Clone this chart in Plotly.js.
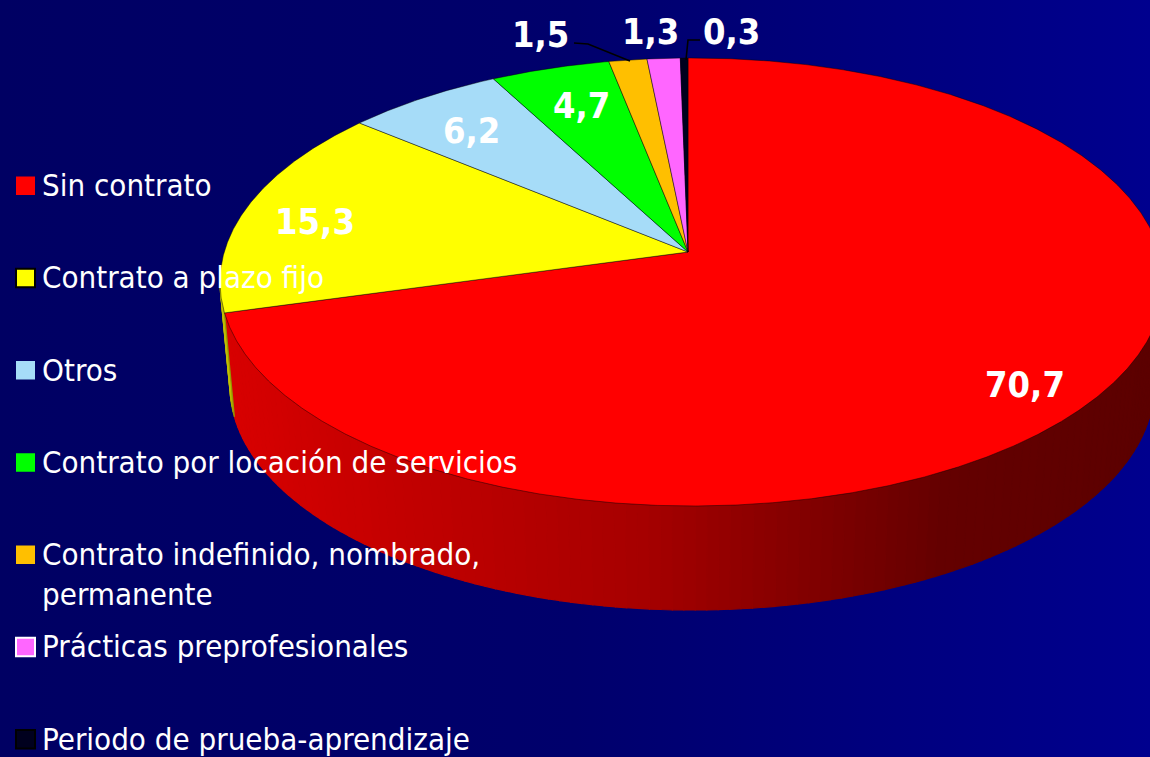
<!DOCTYPE html>
<html>
<head>
<meta charset="utf-8">
<script src="https://cdn.plot.ly/plotly-3.0.1.min.js"></script>
<style>
html,body{margin:0;padding:0;width:1150px;height:757px;overflow:hidden;
background:linear-gradient(to right,#000063 0%,#00006c 50%,#00008e 100%);}
#chart{width:1150px;height:757px;}
</style>
</head>
<body>
<div id="chart"></div>
<script>
// ---- data ----
const categories = ['Sin contrato','Contrato a plazo fijo','Otros','Contrato por locación de servicios','Contrato indefinido, nombrado,<br>permanente','Prácticas preprofesionales','Periodo de prueba-aprendizaje'];
const values = [70.7, 15.3, 6.2, 4.7, 1.5, 1.3, 0.3];
const valueLabels = ['70,7','15,3','6,2','4,7','1,5','1,3','0,3'];

// ---- styles ----
const colors = ['#ff0000','#ffff00','#a6dcf8','#00ff00','#ffbf00','#ff66ff','#00001e'];
const sideScales = [
  [[0,'#d80000'],[0.45,'#a60000'],[0.78,'#640000'],[1,'#5c0000']],
  [[0,'#c0c000'],[1,'#8a8a00']],
  [[0,'#7aa4ba'],[1,'#7aa4ba']],
  [[0,'#00b000'],[1,'#00b000']],
  [[0,'#b88a00'],[1,'#b88a00']],
  [[0,'#b048b0'],[1,'#b048b0']],
  [[0,'#000010'],[1,'#000010']]
];
const legendBorders = [null,'#000000',null,null,null,'#ffffff','#000000'];
const labelPos = [[1025,384],[315,221],[471,130],[581,105],[540,34],[650,31],[731,31]];
const fontFam = '"DejaVu Sans Condensed", "DejaVu Sans", sans-serif';

// ---- geometry (pixel space through the axes) ----
const TOP = {cx:692, cy:282, rx:472, ry:224};
const BOT = {cx:692, cy:386, rx:462, ry:224};
const APEX = {x:688, y:252};

function ray(th){
  const u0=(APEX.x-TOP.cx)/TOP.rx, v0=(APEX.y-TOP.cy)/TOP.ry;
  const du=Math.sin(th), dv=-Math.cos(th);
  const b=u0*du+v0*dv, c=u0*u0+v0*v0-1;
  const s=-b+Math.sqrt(b*b-c);
  return [APEX.x+s*TOP.rx*du, APEX.y+s*TOP.ry*dv];
}
function param(p, near){
  let t=Math.atan2((p[0]-TOP.cx)/TOP.rx, -(p[1]-TOP.cy)/TOP.ry);
  while(t-near>Math.PI) t-=2*Math.PI;
  while(near-t>Math.PI) t+=2*Math.PI;
  return t;
}
function ell(E,t){ return [E.cx+E.rx*Math.sin(t), E.cy-E.ry*Math.cos(t)]; }
function hex2rgb(h){ return [1,3,5].map(k=>parseInt(h.substr(k,2),16)); }
function scaleColor(sc,f){
  f=Math.max(0,Math.min(1,f));
  for(let k=1;k<sc.length;k++){
    if(f<=sc[k][0]){
      const a=sc[k-1], b=sc[k], w=(f-a[0])/((b[0]-a[0])||1);
      const ca=hex2rgb(a[1]), cb=hex2rgb(b[1]);
      return 'rgb('+ca.map((v,j)=>Math.round(v+(cb[j]-v)*w)).join(',')+')';
    }
  }
  return sc[sc.length-1][1];
}

const total = values.reduce((a,b)=>a+b,0);
const sideTraces=[], topTraces=[];
let cum=0;
values.forEach((v,i)=>{
  const a=cum/total*2*Math.PI, b=(cum+v)/total*2*Math.PI;
  cum+=v;
  // top face
  const xs=[APEX.x], ys=[APEX.y];
  const N=Math.max(4,Math.ceil((b-a)/0.005));
  for(let k=0;k<=N;k++){ const p=ray(a+(b-a)*k/N); xs.push(p[0]); ys.push(p[1]); }
  xs.push(APEX.x); ys.push(APEX.y);
  topTraces.push({type:'scatter',mode:'lines',x:xs,y:ys,fill:'toself',fillcolor:colors[i],
    line:{color:'rgba(0,0,0,0.55)',width:0.8},hoverinfo:'skip',showlegend:false,name:categories[i]});
  // side wall (front half only), drawn as shaded strips
  const ta=param(ray(a),a), tb=param(ray(b),b);
  const lo=Math.max(ta,Math.PI/2), hi=Math.min(tb,3*Math.PI/2);
  if(hi>lo){
    const S=Math.max(1,Math.ceil((hi-lo)/0.025));
    const xa=ell(TOP,lo)[0], xb=ell(TOP,hi)[0];
    let xmin=Math.min(xa,xb), xmax=Math.min(1150,Math.max(xa,xb));
    if(lo<=Math.PI/2+1e-9) xmax=Math.min(1150,TOP.cx+TOP.rx);
    if(hi>=3*Math.PI/2-1e-9) xmin=TOP.cx-TOP.rx;
    for(let s=0;s<S;s++){
      const t0=lo+(hi-lo)*s/S, t1=lo+(hi-lo)*(s+1)/S;
      const sx=[], sy=[];
      const M=8;
      for(let k=0;k<=M;k++){ const p=ell(TOP,t0+(t1-t0)*k/M); sx.push(p[0]); sy.push(p[1]); }
      for(let k=M;k>=0;k--){ const p=ell(BOT,t0+(t1-t0)*k/M); sx.push(p[0]); sy.push(p[1]); }
      sx.push(sx[0]); sy.push(sy[0]);
      const xm=ell(TOP,(t0+t1)/2)[0];
      const col=scaleColor(sideScales[i], (xm-xmin)/((xmax-xmin)||1));
      sideTraces.push({type:'scatter',mode:'lines',x:sx,y:sy,fill:'toself',fillcolor:col,
        line:{color:col,width:1.2},hoverinfo:'skip',showlegend:false});
    }
  }
});

// ---- labels ----
const annotations = valueLabels.map((t,i)=>({
  x:labelPos[i][0], y:labelPos[i][1], xref:'x', yref:'y', text:t, showarrow:false,
  xanchor:'center', yanchor:'middle',
  font:{family:fontFam, size:36, color:'#ffffff', weight:'bold'}
}));

// ---- legend (manual) ----
const shapes=[];
const legTop=185, legGap=92.25, legFont=31;
categories.forEach((c,i)=>{
  const yc=legTop+legGap*i;
  const lines=c.split('<br>').length;
  annotations.push({x:40, y:yc+(lines-1)*0.65*legFont, xref:'x', yref:'y', text:c, showarrow:false,
    xanchor:'left', yanchor:'middle', align:'left',
    font:{family:fontFam, size:legFont, color:'#ffffff'}});
  shapes.push({type:'rect', xref:'x', yref:'y', x0:16, x1:35, y0:yc-8.5, y1:yc+10,
    fillcolor:colors[i], line:{color:legendBorders[i]||colors[i], width:legendBorders[i]?2:0}});
});
// leader lines
shapes.push({type:'path', xref:'x', yref:'y', path:'M574,43 L588,44 L630,61', line:{color:'#000000',width:1.6}});
shapes.push({type:'path', xref:'x', yref:'y', path:'M700,40 L688,40 L686,60', line:{color:'#000000',width:1.6}});

const layout = {
  width:1150, height:757,
  margin:{l:0,r:0,t:0,b:0,pad:0},
  paper_bgcolor:'rgba(0,0,0,0)', plot_bgcolor:'rgba(0,0,0,0)',
  xaxis:{range:[0,1150], visible:false, fixedrange:true},
  yaxis:{range:[757,0], visible:false, fixedrange:true},
  showlegend:false,
  annotations:annotations, shapes:shapes
};
Plotly.newPlot('chart', sideTraces.concat(topTraces), layout, {staticPlot:true, displayModeBar:false});
</script>
</body>
</html>
